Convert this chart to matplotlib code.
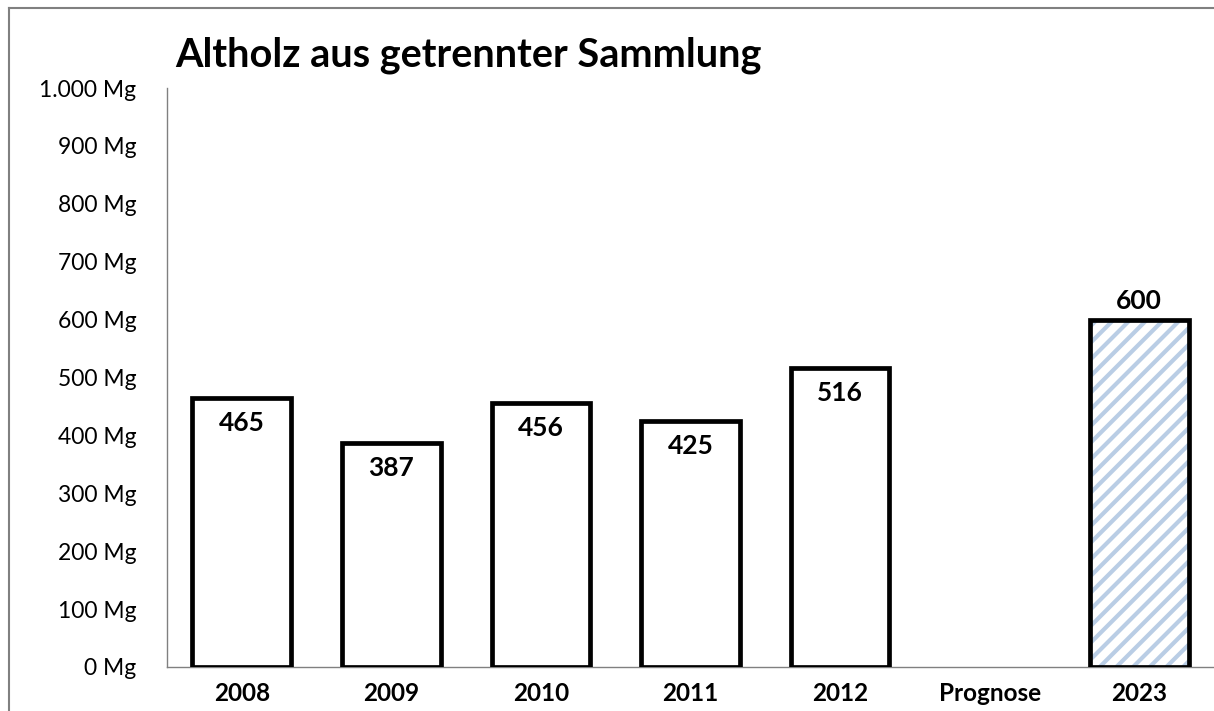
import numpy as np
import matplotlib.pyplot as plt
from matplotlib.lines import Line2D

plt.rcParams['font.family'] = ['Lato', 'DejaVu Sans']
plt.rcParams['hatch.linewidth'] = 3.0

categories = ['2008', '2009', '2010', '2011', '2012', 'Prognose', '2023']
values = [465, 387, 456, 425, 516, np.nan, 600]
forecast = [False, False, False, False, False, False, True]
yticks = np.arange(0, 1001, 100)
yticklabels = ['0 Mg', '100 Mg', '200 Mg', '300 Mg', '400 Mg', '500 Mg',
               '600 Mg', '700 Mg', '800 Mg', '900 Mg', '1.000 Mg']

fig = plt.figure(figsize=(12.14, 7.11), dpi=100)
ax = fig.add_axes([0.1376, 0.0619, 0.8624, 0.8143])

x = np.arange(len(categories))
for i, (v, f) in enumerate(zip(values, forecast)):
    if np.isnan(v):
        continue
    if f:
        # hatch layer in light blue, then black outline on top
        ax.bar(x[i], v, 0.66, facecolor='white', edgecolor='#b9cde5', linewidth=0,
               hatch='//', zorder=3)
        ax.bar(x[i], v, 0.66, facecolor='none', edgecolor='black', linewidth=3.4,
               zorder=4)
        ax.text(x[i], v + 12, '%d' % v, ha='center', va='bottom',
                fontsize=19, fontweight='bold')
    else:
        ax.bar(x[i], v, 0.66, facecolor='white', edgecolor='black', linewidth=3.4,
               zorder=3)
        ax.text(x[i], v - 22, '%d' % v, ha='center', va='top',
                fontsize=19, fontweight='bold')

ax.set_xlim(-0.5, 6.5)
ax.set_ylim(0, 1000)
ax.set_yticks(yticks)
ax.set_yticklabels(yticklabels, fontsize=16.5)
ax.set_xticks(x)
ax.set_xticklabels(categories, fontsize=17.5, fontweight='bold')
ax.tick_params(axis='both', length=0)
ax.tick_params(axis='y', pad=22)
ax.tick_params(axis='x', pad=11)
for s in ['top', 'right']:
    ax.spines[s].set_visible(False)
for s in ['left', 'bottom']:
    ax.spines[s].set_color('#808080')
    ax.spines[s].set_linewidth(1.0)

fig.text(0.144, 0.922, 'Altholz aus getrennter Sammlung', fontsize=28.5,
         fontweight='bold', va='center', ha='left')

# outer frame (left and top)
fig.add_artist(Line2D([0.0074, 0.0074], [0.0, 0.9887], color='#808080', lw=1.5,
                      transform=fig.transFigure))
fig.add_artist(Line2D([0.0074, 1.0], [0.9887, 0.9887], color='#808080', lw=1.5,
                      transform=fig.transFigure))

fig.savefig('out.png', dpi=100)
